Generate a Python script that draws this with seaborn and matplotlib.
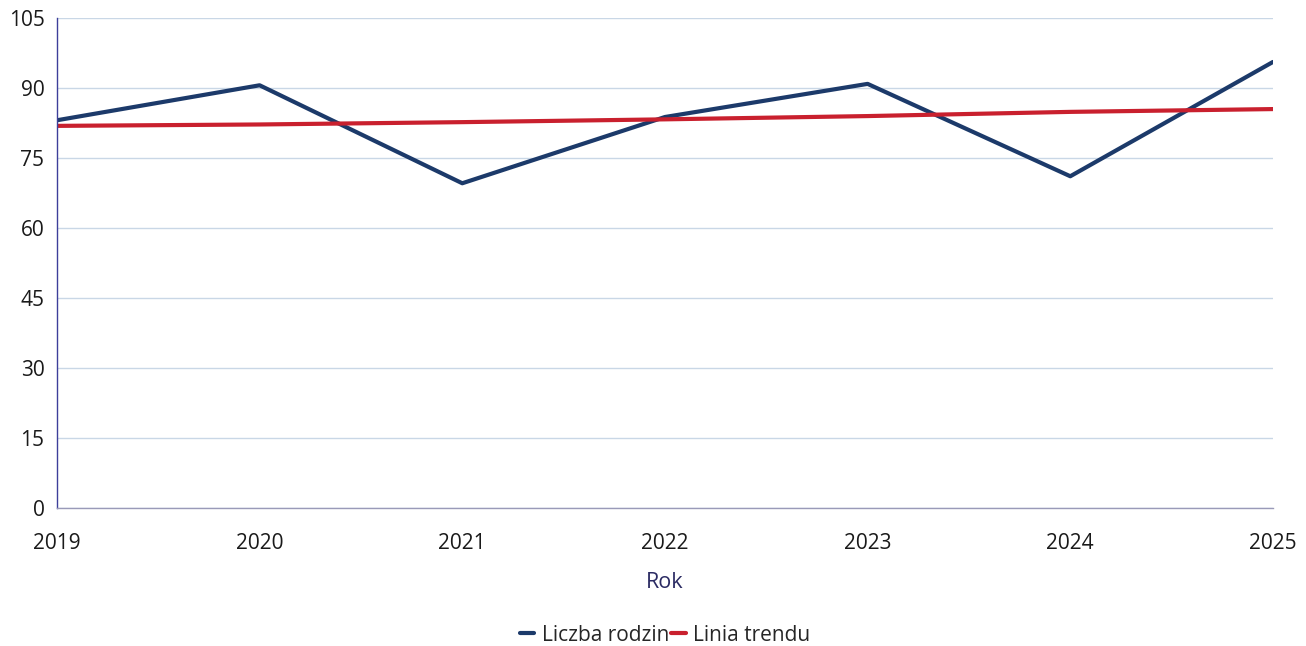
import pandas as pd
import matplotlib
matplotlib.use('Agg')
import matplotlib.pyplot as plt
import seaborn as sns

years = [2019, 2020, 2021, 2022, 2023, 2024, 2025]
families = [83.1, 90.6, 69.6, 83.8, 90.9, 71.1, 95.6]
trend = [81.9, 82.2, 82.7, 83.3, 84.0, 84.9, 85.5]

data = pd.DataFrame({'Rok': years, 'Liczba rodzin': families, 'Linia trendu': trend})

sns.set_style('white')
plt.rcParams['font.family'] = ['Open Sans', 'DejaVu Sans']

fig, ax = plt.subplots(figsize=(13.06, 6.46), dpi=100)
fig.subplots_adjust(left=0.0436, right=0.9747, top=0.972, bottom=0.2136)

sns.lineplot(data=data, x='Rok', y='Liczba rodzin', ax=ax, color='#1c3a6a', linewidth=3, label='Liczba rodzin')
sns.lineplot(data=data, x='Rok', y='Linia trendu', ax=ax, color='#c9202e', linewidth=3, label='Linia trendu')

ax.set_xlim(2019, 2025)
ax.set_ylim(0, 105)
ax.set_yticks(range(0, 106, 15))
ax.set_xticks(years)
ax.grid(axis='y', color='#c9d7e6', linewidth=1)
ax.set_axisbelow(True)

for s in ['top', 'right']:
    ax.spines[s].set_visible(False)
ax.spines['left'].set_color('#3d3f9a')
ax.spines['bottom'].set_color('#9a9ab8')
ax.spines['left'].set_linewidth(1)
ax.spines['bottom'].set_linewidth(1)

ax.tick_params(axis='x', length=0, pad=18, labelsize=15, labelcolor='#1a1a1a')
ax.tick_params(axis='y', length=0, pad=9, labelsize=15, labelcolor='#1a1a1a')
ax.set_xlabel('Rok', fontsize=15.5, color='#2b2b63', labelpad=13)
ax.set_ylabel('')

# legend below the x label
ax.legend(loc='upper center', bbox_to_anchor=(0.5, -0.2), ncol=2, frameon=False,
          fontsize=15, handlelength=0.7, handletextpad=0.35, columnspacing=0.1)

plt.savefig('out.png', dpi=100)
